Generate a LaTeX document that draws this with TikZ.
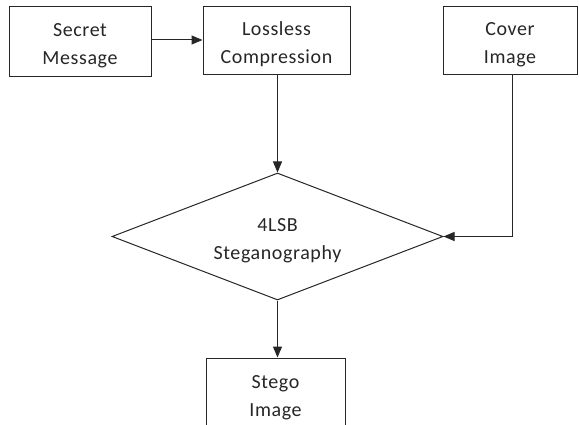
\documentclass[tikz,border=0pt]{standalone}
\usepackage{fontspec}
\setmainfont[LetterSpace=3]{Carlito}
\usetikzlibrary{shapes.geometric,arrows.meta}
\begin{document}
\begin{tikzpicture}[x=1pt,y=-1pt,
  every node/.style={font=\fontsize{20}{28}\selectfont, text=black!85, align=center, inner sep=0pt, text height=51pt, text depth=5pt},
  box/.style={draw=black!85, line width=1pt, rectangle},
  dia/.style={draw=black!85, line width=1pt, diamond, shape aspect=2.6},
  conn/.style={draw=black!85, line width=1pt, -{Triangle[length=11pt,width=9pt]}}]
\useasboundingbox (0,0) rectangle (579,425);
\clip (0,0) rectangle (579,425);
\node[box, minimum width=142pt, minimum height=70pt] (secret) at (80,42) {Secret\\Message};
\node[box, minimum width=147pt, minimum height=68pt] (lossless) at (276.5,41) {Lossless\\Compression};
\node[box, minimum width=134pt, minimum height=68pt] (cover) at (510,41) {Cover\\Image};
\node[dia, minimum width=331pt, minimum height=127pt] (steg) at (277.5,236.5) {4LSB\\Steganography};
\node[box, minimum width=139pt, minimum height=70pt] (stego) at (275.5,393) {Stego\\Image};
\draw[conn] (secret.east |- 0,40) -- (lossless.west |- 0,40);
\draw[conn] (lossless.south -| steg.north) -- (steg.north);
\draw[conn] (steg.south) -- (stego.north -| steg.south);
\draw[conn] (cover.south -| 512,0) |- (steg.east);
\end{tikzpicture}
\end{document}
